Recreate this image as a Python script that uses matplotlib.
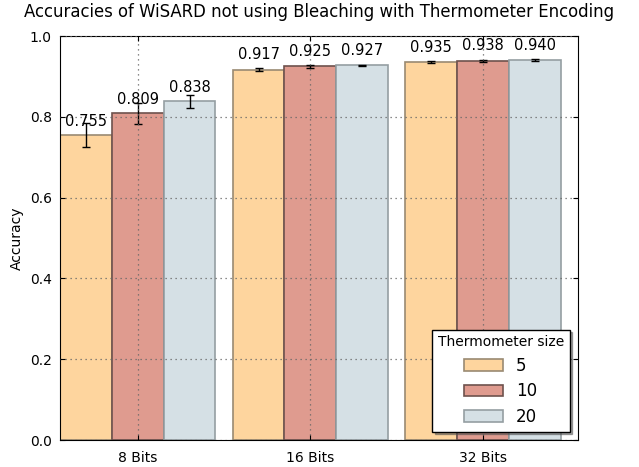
import numpy as np
import matplotlib
matplotlib.use('Agg')
from matplotlib import pyplot as plt

# dados
grupos = ['8 Bits', '16 Bits', '32 Bits']
tamanhos = ['5', '10', '20']
acc_5 = [0.755, 0.917, 0.935]
acc_10 = [0.809, 0.925, 0.938]
acc_20 = [0.838, 0.927, 0.940]
err_5 = [0.030, 0.003, 0.003]
err_10 = [0.026, 0.003, 0.003]
err_20 = [0.017, 0.002, 0.002]

cores = ['#fed59e', '#df9b8f', '#d5e0e5']
bordas = ['#9a8a72', '#6e524d', '#959ea2']

fig = plt.figure(figsize=(6.39, 4.67), dpi=100)
ax = fig.add_axes([60 / 639, 27 / 467, 518 / 639, 404 / 467])

ind = np.arange(len(grupos))
width = 0.3

series = [(acc_5, err_5), (acc_10, err_10), (acc_20, err_20)]
for i, (acc, err) in enumerate(series):
    pos = ind + (i - 1) * width
    ax.bar(pos, acc, width, yerr=err, color=cores[i], edgecolor=bordas[i],
           linewidth=1.2, label=tamanhos[i], zorder=1,
           error_kw=dict(ecolor='black', capsize=3, elinewidth=1, capthick=1))
    for x, h in zip(pos, acc):
        ax.text(x, h * 1.02, '%.3f' % h, ha='center', va='bottom', fontsize=10.5, zorder=4)

ax.set_xlim(-0.45, 2.55)
ax.set_ylim(0, 1.0)
ax.set_xticks(ind)
ax.set_xticklabels(grupos)
ax.set_yticks(np.arange(0, 1.01, 0.2))
ax.set_yticklabels(['%.1f' % v for v in np.arange(0, 1.01, 0.2)])
ax.tick_params(labelsize=10, direction='in', top=True, right=True)
ax.tick_params(axis='x', pad=8)
ax.tick_params(axis='y', pad=6)
# grade por cima das barras, como no estilo classico
ax.set_axisbelow(False)
ax.grid(True, linestyle=(0, (1, 3)), color='#666666', linewidth=0.9, zorder=3)
ax.set_ylabel('Accuracy', fontsize=10)
ax.set_title('Accuracies of WiSARD not using Bleaching with Thermometer Encoding',
             fontsize=11.9, pad=14)

leg = ax.legend(title='Thermometer size', loc='lower right', fontsize=12,
                title_fontsize=10, shadow=True, fancybox=False, framealpha=1,
                edgecolor='black', labelspacing=0.45, handlelength=2.3,
                borderpad=0.35)
leg.get_frame().set_linewidth(1)
leg.set_zorder(5)

plt.savefig('out.png', dpi=100)
